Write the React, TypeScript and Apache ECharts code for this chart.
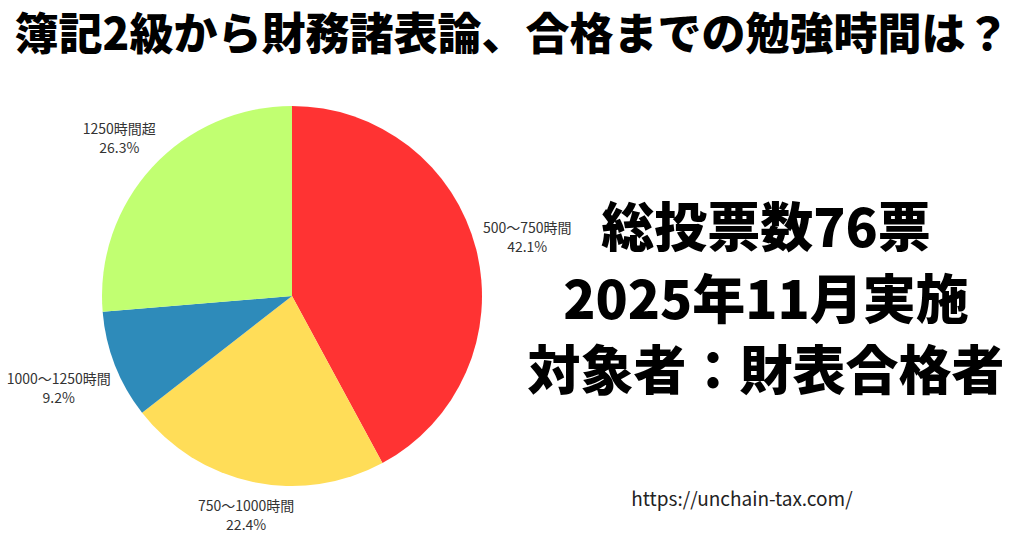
import React, { useEffect, useRef } from 'react';
import * as echarts from 'echarts';

const categories = ['500〜750時間', '750〜1000時間', '1000〜1250時間', '1250時間超'];
const votes = [32, 17, 7, 20];
const colors = ['#FF3333', '#FFDD58', '#2E8BBA', '#C1FF71'];
const titleText = '簿記2級から財務諸表論、合格までの勉強時間は？';
const infoLines = ['総投票数76票', '2025年11月実施', '対象者：財表合格者'];
const sourceUrl = 'https://unchain-tax.com/';

const FONT = '"Noto Sans CJK JP", "Noto Sans", sans-serif';
const CX = 292;
const CY = 296;
const R = 190;
const GAP = 5;

export default function App() {
  const chartRef = useRef<HTMLDivElement>(null);

  useEffect(() => {
    if (!chartRef.current) return;
    const chart = echarts.init(chartRef.current, null, { renderer: 'svg' });

    const total = votes.reduce((s, v) => s + v, 0);
    const cum: number[] = [];
    votes.reduce((s, v, i) => {
      cum[i] = s;
      return s + v;
    }, 0);

    chart.setOption({
      animation: false,
      backgroundColor: '#fff',
      title: {
        text: titleText,
        left: 'center',
        top: 4,
        textStyle: { fontFamily: FONT, fontSize: 44, fontWeight: 900, color: '#000' },
      },
      graphic: [
        ...infoLines.map((t, i) => ({
          type: 'text',
          style: {
            text: t,
            x: 766,
            y: 224 + i * 71.5,
            align: 'center',
            verticalAlign: 'middle',
            fontFamily: FONT,
            fontSize: 53,
            fontWeight: 900,
            fill: '#000',
          },
        })),
        {
          type: 'text',
          style: {
            text: sourceUrl,
            x: 742,
            y: 497,
            align: 'center',
            verticalAlign: 'middle',
            fontFamily: FONT,
            fontSize: 19,
            fill: '#222',
          },
        },
      ],
      series: [
        {
          type: 'pie',
          center: [CX, CY],
          radius: R,
          startAngle: 90,
          clockwise: true,
          avoidLabelOverlap: false,
          label: {
            show: true,
            position: 'outside',
            formatter: (p: any) => `${p.name}\n${p.percent.toFixed(1)}%`,
            fontFamily: FONT,
            fontSize: 14,
            lineHeight: 19,
            color: '#333',
            align: 'center',
          },
          labelLine: { show: false },
          labelLayout: (params: any) => {
            const i = params.dataIndex;
            const mid = ((cum[i] + votes[i] / 2) / total) * Math.PI * 2;
            const dx = Math.sin(mid);
            const dy = -Math.cos(mid);
            const w = params.labelRect.width;
            const h = params.labelRect.height;
            const reach = R + GAP + (Math.abs(dx) * w) / 2 + (Math.abs(dy) * h) / 2;
            return {
              x: CX + dx * reach,
              y: CY + dy * reach,
              align: 'center',
              verticalAlign: 'middle',
            };
          },
          emphasis: { disabled: true },
          data: categories.map((name, i) => ({
            name,
            value: votes[i],
            itemStyle: { color: colors[i] },
          })),
        },
      ],
    });

    return () => chart.dispose();
  }, []);

  return (
    <div
      ref={chartRef}
      style={{ position: 'fixed', left: 0, top: 0, width: 1024, height: 538 }}
    />
  );
}
